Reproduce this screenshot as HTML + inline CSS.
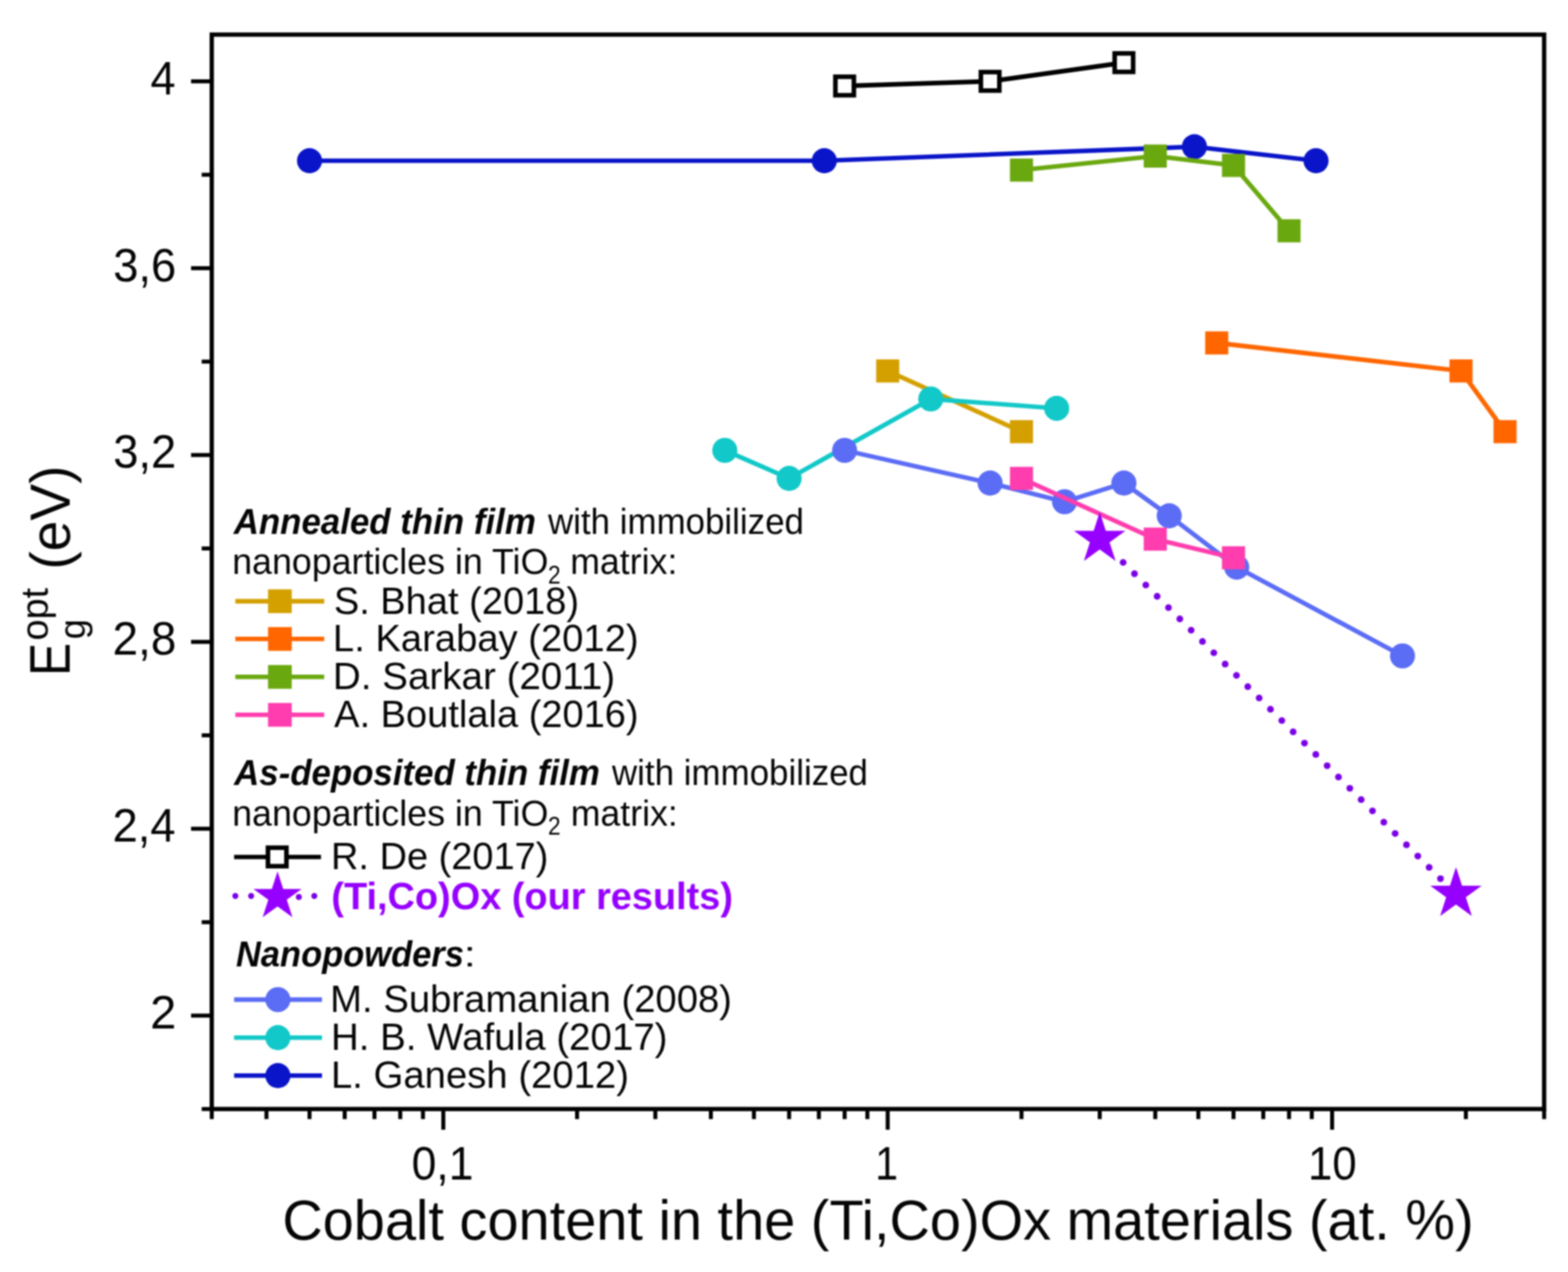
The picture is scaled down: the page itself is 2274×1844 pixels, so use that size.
<!DOCTYPE html>
<html lang="en"><head><meta charset="utf-8"><title>Optical band gap vs cobalt content</title>
<style>html,body{margin:0;padding:0;background:#fff}body{width:2274px;height:1844px;overflow:hidden}svg{display:block}text{font-family:'Liberation Sans', sans-serif;fill:#050505}</style></head><body>
<svg width="2274" height="1844" viewBox="0 0 2274 1844">
<defs><filter id="soft" color-interpolation-filters="sRGB" x="0" y="0" width="2274" height="1844" filterUnits="userSpaceOnUse"><feGaussianBlur stdDeviation="0.8"/></filter></defs>
<rect width="2274" height="1844" fill="#fff"/>
<g filter="url(#soft)">
<g id="data">
<g><polyline points="448.89,233.02 1195.45,233.02 1732.23,212.71 1908.56,233.02" fill="none" stroke="#0A14C8" stroke-width="6.6" stroke-linejoin="round"/>
<circle cx="448.89" cy="233.02" r="18.2" fill="#0A14C8"/>
<circle cx="1195.45" cy="233.02" r="18.2" fill="#0A14C8"/>
<circle cx="1732.23" cy="212.71" r="18.2" fill="#0A14C8"/>
<circle cx="1908.56" cy="233.02" r="18.2" fill="#0A14C8"/>
</g>
<g><polyline points="1481.41,246.57 1675.43,226.25 1788.92,239.8 1869.44,334.6" fill="none" stroke="#6AA80F" stroke-width="6.6" stroke-linejoin="round"/>
<rect x="1464.66" y="229.82" width="33.5" height="33.5" fill="#6AA80F"/>
<rect x="1658.68" y="209.5" width="33.5" height="33.5" fill="#6AA80F"/>
<rect x="1772.17" y="223.05" width="33.5" height="33.5" fill="#6AA80F"/>
<rect x="1852.69" y="317.85" width="33.5" height="33.5" fill="#6AA80F"/>
</g>
<g><polyline points="1764.56,497.13 2118.83,537.76 2182.72,625.8" fill="none" stroke="#FF6600" stroke-width="6.6" stroke-linejoin="round"/>
<rect x="1747.81" y="480.38" width="33.5" height="33.5" fill="#FF6600"/>
<rect x="2102.08" y="521.01" width="33.5" height="33.5" fill="#FF6600"/>
<rect x="2165.97" y="609.05" width="33.5" height="33.5" fill="#FF6600"/>
</g>
<g><polyline points="1287.4,537.76 1481.41,625.8" fill="none" stroke="#D4A000" stroke-width="6.6" stroke-linejoin="round"/>
<rect x="1270.65" y="521.01" width="33.5" height="33.5" fill="#D4A000"/>
<rect x="1464.66" y="609.05" width="33.5" height="33.5" fill="#D4A000"/>
</g>
<g><polyline points="1051.17,652.89 1144.42,693.52 1349.86,578.4 1532.45,591.94" fill="none" stroke="#12C8C8" stroke-width="6.6" stroke-linejoin="round"/>
<circle cx="1051.17" cy="652.89" r="18.2" fill="#12C8C8"/>
<circle cx="1144.42" cy="693.52" r="18.2" fill="#12C8C8"/>
<circle cx="1349.86" cy="578.4" r="18.2" fill="#12C8C8"/>
<circle cx="1532.45" cy="591.94" r="18.2" fill="#12C8C8"/>
</g>
<g><polyline points="1224.94,652.89 1435.92,700.29 1543.87,727.38 1629.94,700.29 1695.67,747.7 1793.55,822.19 2033.96,950.86" fill="none" stroke="#5B6CF5" stroke-width="6.6" stroke-linejoin="round"/>
<circle cx="1224.94" cy="652.89" r="18.2" fill="#5B6CF5"/>
<circle cx="1435.92" cy="700.29" r="18.2" fill="#5B6CF5"/>
<circle cx="1543.87" cy="727.38" r="18.2" fill="#5B6CF5"/>
<circle cx="1629.94" cy="700.29" r="18.2" fill="#5B6CF5"/>
<circle cx="1695.67" cy="747.7" r="18.2" fill="#5B6CF5"/>
<circle cx="1793.55" cy="822.19" r="18.2" fill="#5B6CF5"/>
<circle cx="2033.96" cy="950.86" r="18.2" fill="#5B6CF5"/>
</g>
<g><polyline points="1481.41,693.52 1675.43,781.56 1788.92,808.64" fill="none" stroke="#FF3DAE" stroke-width="6.6" stroke-linejoin="round"/>
<rect x="1464.66" y="676.77" width="33.5" height="33.5" fill="#FF3DAE"/>
<rect x="1658.68" y="764.81" width="33.5" height="33.5" fill="#FF3DAE"/>
<rect x="1772.17" y="791.89" width="33.5" height="33.5" fill="#FF3DAE"/>
</g>
<g><polyline points="1224.94,124.67 1435.92,117.9 1629.94,90.81" fill="none" stroke="#000000" stroke-width="6.7" stroke-linejoin="round"/>
<rect x="1211.54" y="111.27" width="26.8" height="26.8" fill="#fff" stroke="#000000" stroke-width="6.6"/>
<rect x="1422.52" y="104.5" width="26.8" height="26.8" fill="#fff" stroke="#000000" stroke-width="6.6"/>
<rect x="1616.54" y="77.41" width="26.8" height="26.8" fill="#fff" stroke="#000000" stroke-width="6.6"/>
</g>
<g>
<circle cx="1628.84" cy="815.36" r="4.9" fill="#7A00E6"/>
<circle cx="1645.28" cy="831.73" r="4.9" fill="#7A00E6"/>
<circle cx="1661.71" cy="848.11" r="4.9" fill="#7A00E6"/>
<circle cx="1678.15" cy="864.48" r="4.9" fill="#7A00E6"/>
<circle cx="1694.59" cy="880.85" r="4.9" fill="#7A00E6"/>
<circle cx="1711.02" cy="897.23" r="4.9" fill="#7A00E6"/>
<circle cx="1727.46" cy="913.6" r="4.9" fill="#7A00E6"/>
<circle cx="1743.89" cy="929.97" r="4.9" fill="#7A00E6"/>
<circle cx="1760.33" cy="946.35" r="4.9" fill="#7A00E6"/>
<circle cx="1776.77" cy="962.72" r="4.9" fill="#7A00E6"/>
<circle cx="1793.2" cy="979.09" r="4.9" fill="#7A00E6"/>
<circle cx="1809.64" cy="995.47" r="4.9" fill="#7A00E6"/>
<circle cx="1826.08" cy="1011.84" r="4.9" fill="#7A00E6"/>
<circle cx="1842.51" cy="1028.21" r="4.9" fill="#7A00E6"/>
<circle cx="1858.95" cy="1044.59" r="4.9" fill="#7A00E6"/>
<circle cx="1875.39" cy="1060.96" r="4.9" fill="#7A00E6"/>
<circle cx="1891.82" cy="1077.33" r="4.9" fill="#7A00E6"/>
<circle cx="1908.26" cy="1093.71" r="4.9" fill="#7A00E6"/>
<circle cx="1924.69" cy="1110.08" r="4.9" fill="#7A00E6"/>
<circle cx="1941.13" cy="1126.45" r="4.9" fill="#7A00E6"/>
<circle cx="1957.57" cy="1142.83" r="4.9" fill="#7A00E6"/>
<circle cx="1974" cy="1159.2" r="4.9" fill="#7A00E6"/>
<circle cx="1990.44" cy="1175.58" r="4.9" fill="#7A00E6"/>
<circle cx="2006.88" cy="1191.95" r="4.9" fill="#7A00E6"/>
<circle cx="2023.31" cy="1208.32" r="4.9" fill="#7A00E6"/>
<circle cx="2039.75" cy="1224.7" r="4.9" fill="#7A00E6"/>
<circle cx="2056.18" cy="1241.07" r="4.9" fill="#7A00E6"/>
<circle cx="2072.62" cy="1257.44" r="4.9" fill="#7A00E6"/>
<circle cx="2089.06" cy="1273.82" r="4.9" fill="#7A00E6"/>
<polygon points="1594.9,742.36 1603.71,769.44 1632.19,769.44 1609.15,786.18 1617.95,813.27 1594.9,796.53 1571.86,813.27 1580.66,786.18 1557.62,769.44 1586.1,769.44" fill="#9500FF"/>
<polygon points="2111.56,1257.03 2120.36,1284.11 2148.84,1284.11 2125.8,1300.86 2134.6,1327.94 2111.56,1311.2 2088.52,1327.94 2097.32,1300.86 2074.28,1284.11 2102.75,1284.11" fill="#9500FF"/>
</g></g>
<g id="axes" stroke="#000" fill="none">
<rect x="307.1" y="50.18" width="1932.3" height="1557.56" stroke-width="6.2"/>
<g stroke-width="5.8">
<line x1="277.1" y1="117.9" x2="307.1" y2="117.9"/>
<line x1="292.5" y1="253.34" x2="307.1" y2="253.34"/>
<line x1="277.1" y1="388.78" x2="307.1" y2="388.78"/>
<line x1="292.5" y1="524.22" x2="307.1" y2="524.22"/>
<line x1="277.1" y1="659.66" x2="307.1" y2="659.66"/>
<line x1="292.5" y1="795.1" x2="307.1" y2="795.1"/>
<line x1="277.1" y1="930.54" x2="307.1" y2="930.54"/>
<line x1="292.5" y1="1065.98" x2="307.1" y2="1065.98"/>
<line x1="277.1" y1="1201.42" x2="307.1" y2="1201.42"/>
<line x1="292.5" y1="1336.86" x2="307.1" y2="1336.86"/>
<line x1="277.1" y1="1472.3" x2="307.1" y2="1472.3"/>
<line x1="292.5" y1="1607.74" x2="307.1" y2="1607.74"/>
<line x1="307.1" y1="1607.74" x2="307.1" y2="1622.34"/>
<line x1="386.43" y1="1607.74" x2="386.43" y2="1622.34"/>
<line x1="448.89" y1="1607.74" x2="448.89" y2="1622.34"/>
<line x1="499.92" y1="1607.74" x2="499.92" y2="1622.34"/>
<line x1="543.07" y1="1607.74" x2="543.07" y2="1622.34"/>
<line x1="580.44" y1="1607.74" x2="580.44" y2="1622.34"/>
<line x1="613.41" y1="1607.74" x2="613.41" y2="1622.34"/>
<line x1="642.9" y1="1607.74" x2="642.9" y2="1637.74"/>
<line x1="836.91" y1="1607.74" x2="836.91" y2="1622.34"/>
<line x1="950.4" y1="1607.74" x2="950.4" y2="1622.34"/>
<line x1="1030.93" y1="1607.74" x2="1030.93" y2="1622.34"/>
<line x1="1093.39" y1="1607.74" x2="1093.39" y2="1622.34"/>
<line x1="1144.42" y1="1607.74" x2="1144.42" y2="1622.34"/>
<line x1="1187.57" y1="1607.74" x2="1187.57" y2="1622.34"/>
<line x1="1224.94" y1="1607.74" x2="1224.94" y2="1622.34"/>
<line x1="1257.91" y1="1607.74" x2="1257.91" y2="1622.34"/>
<line x1="1287.4" y1="1607.74" x2="1287.4" y2="1637.74"/>
<line x1="1481.41" y1="1607.74" x2="1481.41" y2="1622.34"/>
<line x1="1594.9" y1="1607.74" x2="1594.9" y2="1622.34"/>
<line x1="1675.43" y1="1607.74" x2="1675.43" y2="1622.34"/>
<line x1="1737.89" y1="1607.74" x2="1737.89" y2="1622.34"/>
<line x1="1788.92" y1="1607.74" x2="1788.92" y2="1622.34"/>
<line x1="1832.07" y1="1607.74" x2="1832.07" y2="1622.34"/>
<line x1="1869.44" y1="1607.74" x2="1869.44" y2="1622.34"/>
<line x1="1902.41" y1="1607.74" x2="1902.41" y2="1622.34"/>
<line x1="1931.9" y1="1607.74" x2="1931.9" y2="1637.74"/>
<line x1="2125.91" y1="1607.74" x2="2125.91" y2="1622.34"/>
<line x1="2239.4" y1="1607.74" x2="2239.4" y2="1622.34"/>
</g></g>
<g id="ticklabels">
<text x="218.28" y="136.7" font-size="68" textLength="36.35" lengthAdjust="spacingAndGlyphs">4</text>
<text x="164.24" y="407.58" font-size="68" textLength="91.42" lengthAdjust="spacingAndGlyphs">3,6</text>
<text x="164.24" y="678.46" font-size="68" textLength="91.42" lengthAdjust="spacingAndGlyphs">3,2</text>
<text x="163.18" y="949.34" font-size="68" textLength="92.52" lengthAdjust="spacingAndGlyphs">2,8</text>
<text x="163.22" y="1220.22" font-size="68" textLength="91.42" lengthAdjust="spacingAndGlyphs">2,4</text>
<text x="217.8" y="1491.1" font-size="68" textLength="37.97" lengthAdjust="spacingAndGlyphs">2</text>
<text x="596.89" y="1710.2" font-size="68" textLength="89.63" lengthAdjust="spacingAndGlyphs">0,1</text>
<text x="1269.18" y="1710.2" font-size="68" textLength="33.14" lengthAdjust="spacingAndGlyphs">1</text>
<text x="1896.94" y="1710.2" font-size="68" textLength="70.54" lengthAdjust="spacingAndGlyphs">10</text>
</g>
<g id="xtitle">
<text x="409.4" y="1797.2" font-size="82" textLength="1727.8" lengthAdjust="spacingAndGlyphs">Cobalt content in the (Ti,Co)Ox materials (at. %)</text>
</g>
<g id="ytitle" transform="translate(101.1,981) rotate(-90)">
<text x="0.97" y="0" font-size="84" textLength="48.05" lengthAdjust="spacingAndGlyphs">E</text>
<text x="52.59" y="-32.3" font-size="56" textLength="76.23" lengthAdjust="spacingAndGlyphs">opt</text>
<text x="54.25" y="22" font-size="54" textLength="29.31" lengthAdjust="spacingAndGlyphs">g</text>
<text x="155.25" y="0" font-size="81" textLength="150.98" lengthAdjust="spacingAndGlyphs">(eV)</text>
</g>
<g id="legend">
<line x1="341.3" y1="871.6" x2="470.2" y2="871.6" stroke="#D4A000" stroke-width="6.6"/><rect x="388.7" y="854.4" width="34.4" height="34.4" fill="#D4A000"/>
<line x1="341.3" y1="926.3" x2="470.2" y2="926.3" stroke="#FF6600" stroke-width="6.6"/><rect x="388.7" y="909.1" width="34.4" height="34.4" fill="#FF6600"/>
<line x1="341.3" y1="981.3" x2="470.2" y2="981.3" stroke="#6AA80F" stroke-width="6.6"/><rect x="388.7" y="964.1" width="34.4" height="34.4" fill="#6AA80F"/>
<line x1="341.3" y1="1036.3" x2="470.2" y2="1036.3" stroke="#FF3DAE" stroke-width="6.6"/><rect x="388.7" y="1019.1" width="34.4" height="34.4" fill="#FF3DAE"/>
<line x1="339.5" y1="1242.3" x2="465.5" y2="1242.3" stroke="#000000" stroke-width="6.2"/><rect x="388.6" y="1228.9" width="26.8" height="26.8" fill="#fff" stroke="#000000" stroke-width="6.6"/>
<circle cx="341.3" cy="1298.8" r="4.4" fill="#7A00E6"/>
<circle cx="364.2" cy="1298.8" r="4.4" fill="#7A00E6"/>
<circle cx="433.4" cy="1300.4" r="4.4" fill="#7A00E6"/>
<circle cx="455.8" cy="1298.8" r="4.4" fill="#7A00E6"/>
<polygon points="402.5,1263.2 410.76,1288.63 437.5,1288.63 415.87,1304.34 424.13,1329.77 402.5,1314.06 380.87,1329.77 389.13,1304.34 367.5,1288.63 394.24,1288.63" fill="#9500FF"/>
<line x1="339.5" y1="1449.1" x2="467" y2="1449.1" stroke="#5B6CF5" stroke-width="6.6"/><circle cx="403" cy="1449.1" r="18.2" fill="#5B6CF5"/>
<line x1="339.5" y1="1504.3" x2="467" y2="1504.3" stroke="#12C8C8" stroke-width="6.6"/><circle cx="403" cy="1504.3" r="18.2" fill="#12C8C8"/>
<line x1="339.5" y1="1559.3" x2="467" y2="1559.3" stroke="#0A14C8" stroke-width="6.6"/><circle cx="403" cy="1559.3" r="18.2" fill="#0A14C8"/>
<text x="338.98" y="774.3" font-size="51" textLength="438.13" lengthAdjust="spacingAndGlyphs" font-weight="bold" font-style="italic">Annealed thin film</text>
<text x="794.69" y="774.3" font-size="51" textLength="371.25" lengthAdjust="spacingAndGlyphs">with immobilized</text>
<text x="336.76" y="832" font-size="51" textLength="458.49" lengthAdjust="spacingAndGlyphs">nanoparticles in TiO</text>
<text x="794.66" y="845.6" font-size="37.5" textLength="18.27" lengthAdjust="spacingAndGlyphs">2</text>
<text x="826.96" y="832" font-size="51" textLength="155.31" lengthAdjust="spacingAndGlyphs">matrix:</text>
<text x="484.18" y="889.7" font-size="56" textLength="355.58" lengthAdjust="spacingAndGlyphs">S. Bhat (2018)</text>
<text x="482.87" y="944.4" font-size="56" textLength="443.29" lengthAdjust="spacingAndGlyphs">L. Karabay (2012)</text>
<text x="482.83" y="999.4" font-size="56" textLength="409.37" lengthAdjust="spacingAndGlyphs">D. Sarkar (2011)</text>
<text x="484.6" y="1054.4" font-size="56" textLength="441.55" lengthAdjust="spacingAndGlyphs">A. Boutlala (2016)</text>
<text x="339.58" y="1138.4" font-size="51" textLength="530.33" lengthAdjust="spacingAndGlyphs" font-weight="bold" font-style="italic">As-deposited thin film</text>
<text x="887.59" y="1138.4" font-size="51" textLength="371.15" lengthAdjust="spacingAndGlyphs">with immobilized</text>
<text x="336.76" y="1196.8" font-size="51" textLength="458.49" lengthAdjust="spacingAndGlyphs">nanoparticles in TiO</text>
<text x="794.66" y="1210.4" font-size="37.5" textLength="18.27" lengthAdjust="spacingAndGlyphs">2</text>
<text x="827.77" y="1196.8" font-size="51" textLength="155.1" lengthAdjust="spacingAndGlyphs">matrix:</text>
<text x="480" y="1260.2" font-size="56" textLength="315.35" lengthAdjust="spacingAndGlyphs">R. De (2017)</text>
<text x="480.62" y="1317.6" font-size="56" textLength="582.36" lengthAdjust="spacingAndGlyphs" font-weight="bold" style="fill:#9500FF">(Ti,Co)Ox (our results)</text>
<text x="342.22" y="1401.2" font-size="51" textLength="330.53" lengthAdjust="spacingAndGlyphs" font-weight="bold" font-style="italic">Nanopowders</text>
<text x="672.57" y="1401.2" font-size="51" textLength="17.53" lengthAdjust="spacingAndGlyphs">:</text>
<text x="478.87" y="1467" font-size="56" textLength="582.7" lengthAdjust="spacingAndGlyphs">M. Subramanian (2008)</text>
<text x="479.94" y="1522.2" font-size="56" textLength="488.15" lengthAdjust="spacingAndGlyphs">H. B. Wafula (2017)</text>
<text x="479.96" y="1577.2" font-size="56" textLength="432.31" lengthAdjust="spacingAndGlyphs">L. Ganesh (2012)</text>
</g>
</g>
</svg></body></html>
